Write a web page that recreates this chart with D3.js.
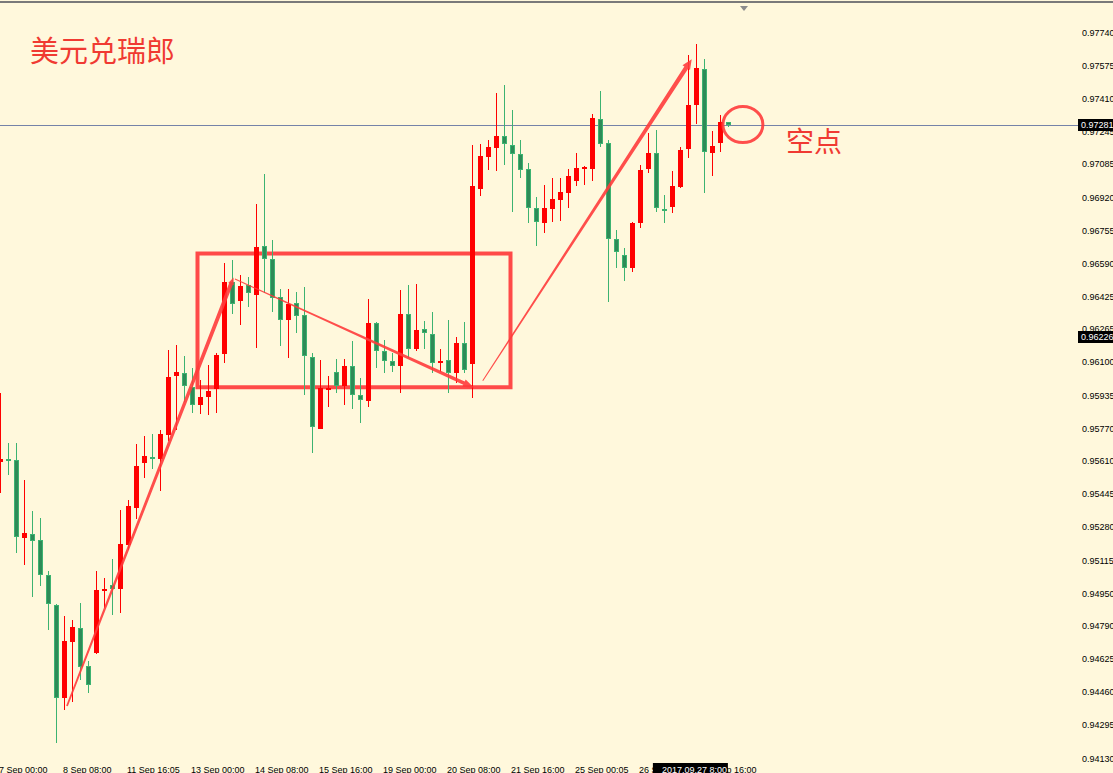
<!DOCTYPE html>
<html><head><meta charset="utf-8">
<script src="https://cdn.jsdelivr.net/npm/d3@7"></script>
<style>
html,body{margin:0;padding:0;background:#FFF8DC;overflow:hidden;}
svg{display:block;}
</style></head><body>
<svg id="chart" width="1113" height="773"></svg>
<script>
// ---- DATA (USD/CHF, H4) ----
const opens = [0.95604,0.95619,0.95614,0.95226,0.95246,0.95216,0.95042,0.94893,0.94430,0.94709,
0.94779,0.94590,0.94654,0.94963,0.94992,0.94973,0.95191,0.95375,0.95599,0.95629,
0.95619,0.95738,0.96032,0.96047,0.95977,0.95888,0.95927,0.95967,0.96141,0.96499,
0.96405,0.96484,0.96435,0.96678,0.96614,0.96425,0.96310,0.96395,0.96335,0.96126,
0.95768,0.95962,0.96052,0.95982,0.96082,0.95937,0.95907,0.96295,0.96156,0.96106,
0.96082,0.96340,0.96166,0.96266,0.96241,0.96096,0.96111,0.96047,0.96196,0.96091,
0.96962,0.97121,0.97166,0.97225,0.97181,0.97136,0.97061,0.96867,0.96793,0.96862,
0.96907,0.96942,0.97002,0.97061,0.97061,0.97310,0.97191,0.96713,0.96634,0.96569,
0.96793,0.97061,0.97141,0.96862,0.96872,0.96972,0.97161,0.97379,0.97558,0.97141,
0.97191,0.97295];
const highs = [0.95947,0.95699,0.95699,0.95515,0.95360,0.95326,0.95062,0.94898,0.94838,0.94818,
0.94903,0.94614,0.95062,0.95027,0.95122,0.95365,0.95415,0.95694,0.95733,0.95743,
0.95763,0.96161,0.96186,0.96131,0.96072,0.96012,0.96087,0.96146,0.96594,0.96609,
0.96534,0.96524,0.96887,0.97036,0.96708,0.96464,0.96464,0.96450,0.96474,0.96146,
0.96111,0.96032,0.96116,0.96116,0.96206,0.96022,0.96415,0.96300,0.96211,0.96146,
0.96459,0.96484,0.96489,0.96305,0.96350,0.96166,0.96310,0.96226,0.96300,0.97181,
0.97186,0.97205,0.97439,0.97479,0.97355,0.97205,0.97091,0.96922,0.96982,0.97016,
0.97016,0.97061,0.97141,0.97076,0.97335,0.97449,0.97205,0.96758,0.96668,0.96798,
0.97081,0.97240,0.97255,0.96932,0.97051,0.97171,0.97628,0.97683,0.97608,0.97250,
0.97330,0.97295];
const lows = [0.95450,0.95539,0.95152,0.95092,0.94933,0.94987,0.94769,0.94207,0.94371,0.94411,
0.94520,0.94455,0.94649,0.94878,0.94843,0.94853,0.95166,0.95321,0.95525,0.95569,
0.95460,0.95709,0.95763,0.95903,0.95848,0.95843,0.95838,0.95848,0.96096,0.96340,
0.96285,0.96375,0.96171,0.96445,0.96350,0.96181,0.96121,0.96246,0.95937,0.95649,
0.95768,0.95878,0.95947,0.95888,0.95868,0.95798,0.95878,0.96072,0.96047,0.96052,
0.95947,0.96121,0.96156,0.96166,0.96047,0.96052,0.95947,0.95997,0.96047,0.95922,
0.96927,0.97056,0.97051,0.97081,0.96847,0.97016,0.96793,0.96678,0.96743,0.96798,
0.96803,0.96867,0.96977,0.96982,0.97002,0.97171,0.96400,0.96569,0.96504,0.96549,
0.96768,0.97041,0.96847,0.96793,0.96842,0.96967,0.97116,0.97285,0.96942,0.97026,
0.97146,0.97270];
const closes = [0.95619,0.95609,0.95231,0.95251,0.95211,0.95042,0.94898,0.94430,0.94714,0.94784,
0.94585,0.94495,0.94968,0.94973,0.94973,0.95196,0.95385,0.95584,0.95634,0.95619,
0.95743,0.96027,0.96052,0.95982,0.95888,0.95927,0.95957,0.96136,0.96499,0.96390,
0.96479,0.96445,0.96673,0.96614,0.96420,0.96310,0.96390,0.96330,0.96131,0.95778,
0.95972,0.95972,0.95982,0.96082,0.95937,0.95912,0.96295,0.96156,0.96106,0.96082,
0.96340,0.96166,0.96261,0.96246,0.96096,0.96106,0.96047,0.96196,0.96062,0.96977,
0.97126,0.97171,0.97225,0.97186,0.97136,0.97056,0.96867,0.96798,0.96867,0.96912,
0.96947,0.97026,0.97066,0.97071,0.97315,0.97186,0.96713,0.96648,0.96569,0.96793,
0.97056,0.97141,0.96867,0.96857,0.96977,0.97156,0.97379,0.97563,0.97146,0.97176,
0.97295,0.97281];

const timeLabels = ["7 Sep 00:00","8 Sep 08:00","11 Sep 16:05","13 Sep 00:00","14 Sep 08:00","15 Sep 16:00",
  "19 Sep 00:00","20 Sep 08:00","21 Sep 16:00","25 Sep 00:05","26 Sep 08:00","27 Sep 16:00"];
const timeLabelIndex = [0,8,16,24,32,40,48,56,64,72,80,88];
const priceTicks = [0.97740,0.97575,0.97410,0.97245,0.97085,0.96920,0.96755,0.96590,0.96425,0.96265,
  0.96100,0.95935,0.95770,0.95610,0.95445,0.95280,0.95115,0.94950,0.94790,0.94625,0.94460,0.94295,0.94130];
const currentPrice = 0.97281;
const markerPrice = 0.96226;
const cursorTimeText = "2017.09.27 8:00";
const cursorIndex = 86.3;

const titleText = "美元兑瑞郎";
const noteText = "空点";
// annotation anchors in data space: [candle index, price]
const arrowFrom = [[8.31,0.94391],[29.31,0.96514],[60.28,0.96008]];
const arrowTo   = [[29.125,0.96522],[59.19,0.95974],[86.4,0.97607]];
const boxCorners = [[24.625,0.96641],[63.75,0.95976]];
const ellipseCenter = [92.8,0.97282];

// ---- LAYOUT ----
const W = 1113, H = 773;
const x = d3.scaleLinear().domain([0, 91]).range([0.5, 728.5]);
const y = d3.scaleLinear().domain([0.94130, 0.97740]).range([758.5, 32.5]);
const svg = d3.select('#chart');
svg.append('rect').attr('width', W).attr('height', H).attr('fill', '#FFF8DC');

// top border & triangle
svg.append('line').attr('x1',0).attr('x2',W).attr('y1',2).attr('y2',2)
  .attr('stroke','#7a7a7a').attr('stroke-width',2);
svg.append('polygon').attr('points','740,6 748,6 744,11').attr('fill','#8c8c8c');

const annoColor = '#FF3B3B';
// rectangle (background)
svg.append('rect')
  .attr('x', x(boxCorners[0][0])).attr('y', y(boxCorners[0][1]))
  .attr('width', x(boxCorners[1][0]) - x(boxCorners[0][0]))
  .attr('height', y(boxCorners[1][1]) - y(boxCorners[0][1]))
  .attr('fill','none').attr('stroke', annoColor).attr('stroke-width', 4).attr('opacity',0.92);

// current price line
const cpY = Math.round(y(currentPrice)) + 0.5;
svg.append('line').attr('x1',0).attr('x2',1078).attr('y1',cpY).attr('y2',cpY)
  .attr('stroke','#7583A8').attr('stroke-width',1);

// candles
const data = opens.map((o,i)=>({i, o, h:highs[i], l:lows[i], c:closes[i]}));
const g = svg.append('g').attr('shape-rendering','crispEdges');
const up = d => d.c >= d.o;
g.selectAll('line.wick').data(data).join('line')
  .attr('x1', d=>x(d.i)).attr('x2', d=>x(d.i))
  .attr('y1', d=>Math.round(y(d.h))).attr('y2', d=>Math.round(y(d.l)))
  .attr('stroke', d=> up(d) ? '#FF0000' : '#3CB371').attr('stroke-width',1);
g.selectAll('rect.body').data(data).join('rect')
  .each(function(d){
    const top = Math.round(y(Math.max(d.o,d.c)));
    const bot = Math.round(y(Math.min(d.o,d.c)));
    const h = Math.max(1, bot - top);
    const s = d3.select(this);
    if (up(d)) {
      s.attr('x', x(d.i)-2.5).attr('y', top).attr('width',5).attr('height', Math.max(2,h)).attr('fill','#FF0000');
    } else if (h <= 2) {
      s.attr('x', x(d.i)-2.5).attr('y', top).attr('width',5).attr('height', 2).attr('fill','#3CB371');
    } else {
      s.attr('x', x(d.i)-2).attr('y', top+0.5).attr('width',4).attr('height', h-1)
       .attr('fill','#2E8B57').attr('stroke','#3CB371').attr('stroke-width',1);
    }
  });

// tapered arrows
function arrow(p0, p1, w0, w1, headLen, headW) {
  const dx=p1[0]-p0[0], dy=p1[1]-p0[1], L=Math.hypot(dx,dy);
  const ux=dx/L, uy=dy/L, nx=-uy, ny=ux;
  const bx=p1[0]-ux*headLen, by=p1[1]-uy*headLen;
  const pts=[[p0[0]+nx*w0/2,p0[1]+ny*w0/2],[bx+nx*w1/2,by+ny*w1/2],[bx+nx*headW/2,by+ny*headW/2],
    [p1[0],p1[1]],[bx-nx*headW/2,by-ny*headW/2],[bx-nx*w1/2,by-ny*w1/2],[p0[0]-nx*w0/2,p0[1]-ny*w0/2]];
  svg.append('polygon').attr('points', pts.map(p=>p.join(',')).join(' '))
    .attr('fill', annoColor).attr('opacity',0.9);
}
const arrowStyle = [[1.8,4,7,6],[1,3.5,11,8],[1,4.5,10,9]];
arrowFrom.forEach((f,k)=>{
  const t = arrowTo[k], st = arrowStyle[k];
  arrow([x(f[0]), y(f[1])], [x(t[0]), y(t[1])], st[0], st[1], st[2], st[3]);
});

// ellipse
svg.append('ellipse').attr('cx', x(ellipseCenter[0])).attr('cy', y(ellipseCenter[1]))
  .attr('rx', 20).attr('ry', 18).attr('fill','none').attr('stroke', annoColor)
  .attr('stroke-width', 3).attr('opacity',0.9);

// texts
svg.append('text').attr('x',30).attr('y',62).text(titleText)
  .attr('font-family','"Noto Sans CJK SC"').attr('font-size',29).attr('fill','#F03A32');
svg.append('text').attr('x',786).attr('y',152).text(noteText)
  .attr('font-family','"Noto Sans CJK SC"').attr('font-size',28).attr('fill','#F03A32');

// price axis labels
const ax = svg.append('g').attr('font-family','"Liberation Sans", Arial, sans-serif').attr('font-size',9);
ax.selectAll('text.pt').data(priceTicks).join('text')
  .attr('x',1082).attr('y', d=>y(d)).attr('dy','0.35em').attr('fill','#000').text(d=>d.toFixed(5));
[currentPrice, markerPrice].forEach(p=>{
  const yy = Math.round(y(p));
  ax.append('rect').attr('x',1078).attr('y',yy-6).attr('width',40).attr('height',12).attr('fill','#000');
  ax.append('text').attr('x',1081).attr('y',yy).attr('dy','0.35em').attr('fill','#fff').text(p.toFixed(5));
});

// time axis labels
const tx = svg.append('g').attr('font-family','"Liberation Sans", Arial, sans-serif').attr('font-size',9);
tx.selectAll('text.tl').data(timeLabels).join('text')
  .attr('x', (d,k)=>x(timeLabelIndex[k]) - 1.5).attr('y', 773).attr('fill','#000').text(d=>d);
const cx0 = x(cursorIndex);
tx.append('rect').attr('x', cx0-38).attr('y',763).attr('width',75).attr('height',12).attr('fill','#000');
tx.append('text').attr('x', cx0-29).attr('y',773).attr('fill','#fff').text(cursorTimeText);
</script>
</body></html>
